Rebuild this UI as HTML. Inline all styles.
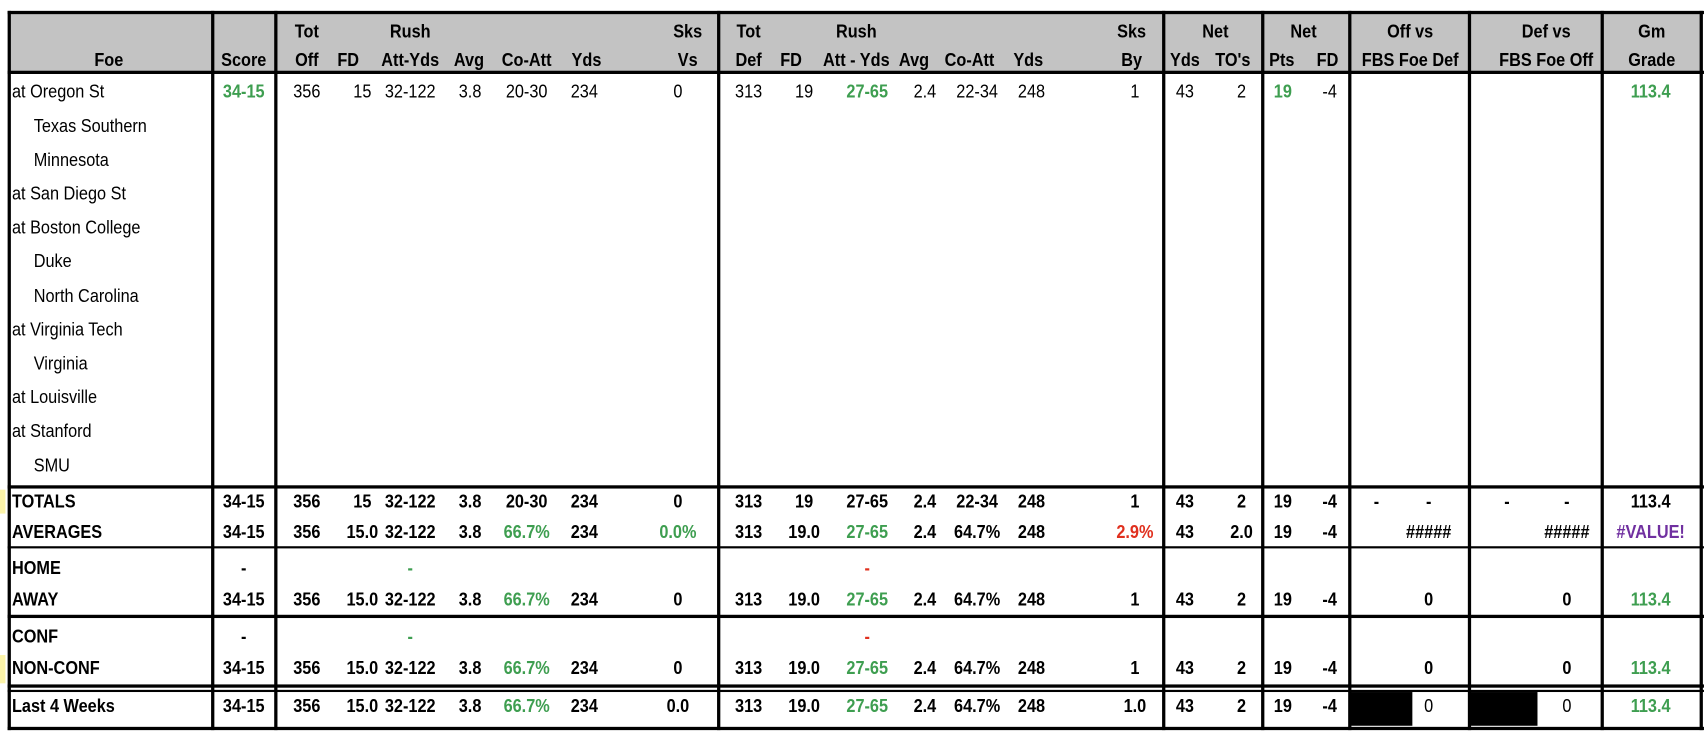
<!DOCTYPE html>
<html><head><meta charset="utf-8">
<style>
html,body{margin:0;padding:0;background:#fff;width:1704px;height:734px;overflow:hidden}
#wrap{position:absolute;left:0;top:0;width:1566px;height:675px;transform:scale(1.0881);transform-origin:0 0;font-family:"Liberation Sans",sans-serif;color:#000}
.t{position:absolute;font-size:17px;white-space:nowrap;transform:translate(-50%,-50%) scaleX(0.88);line-height:1}
.l{transform:translate(0,-50%) scaleX(0.88);transform-origin:0 50%}
.b{font-weight:bold}
.g{color:#3e9e50;font-weight:bold}
.r{color:#e0301e;font-weight:bold}
.p{color:#7030a0;font-weight:bold}
.h{position:absolute;background:#000}
</style></head><body>
<div id="wrap">
<div style="position:absolute;left:8px;top:10px;width:1557px;height:56px;background:#c3c3c3"></div>
<div style="position:absolute;left:0;top:450px;width:5px;height:22px;background:#fbf3a8"></div>
<div style="position:absolute;left:0;top:602px;width:5px;height:26px;background:#fbf3a8"></div>
<div style="position:absolute;left:1240px;top:636px;width:58px;height:31px;background:#000"></div>
<div style="position:absolute;left:1350px;top:636px;width:63px;height:31px;background:#000"></div>
</div>
<script>
const wrap=document.getElementById('wrap');
const vLines=[8,195,253,660,1069,1160,1240,1350,1472,1563];
const hLines=[[10,3],[65,3],[446,3],[502,2],[565,3],[629,3],[634,2],[668,3]];
const hdr1=[["Tot",282],["Rush",377],["Sks",632],["Tot",688],["Rush",787],["Sks",1040],["Net",1117],["Net",1198],["Off vs",1296],["Def vs",1421],["Gm",1518]];
const hdr2=[["Foe",100],["Score",224],["Off",282],["FD",320],["Att-Yds",377],["Avg",431],["Co-Att",484],["Yds",539],["Vs",632],["Def",688],["FD",727],["Att - Yds",787],["Avg",840],["Co-Att",891],["Yds",945],["By",1040],["Yds",1089],["TO's",1133],["Pts",1178],["FD",1220],["FBS Foe Def",1296],["FBS Foe Off",1421],["Grade",1518]];
const colX=[224,282,333,377,432,484,537,623,688,739,797,850,898,948,1043,1089,1141,1179,1222,1265,1313,1385,1440,1517];
const foes=["at Oregon St","  Texas Southern","  Minnesota","at San Diego St","at Boston College","  Duke","  North Carolina","at Virginia Tech","  Virginia","at Louisville","at Stanford","  SMU"];
const gameY=[84,116,147,178,209,240,272,303,334,365,396,428];
const game1=["g:34-15","356","15","32-122","3.8","20-30","234","0","313","19","g:27-65","2.4","22-34","248","1","43","2","g:19","-4","","","","","g:113.4"];
const sumLabels=["TOTALS","AVERAGES","HOME","AWAY","CONF","NON-CONF","Last 4 Weeks"];
const sumY=[461,489,522,551,585,614,649];
const totals=["34-15","356","15","32-122","3.8","20-30","234","0","313","19","27-65","2.4","22-34","248","1","43","2","19","-4","-","-","-","-","113.4"];
const averages=["34-15","356","15.0","32-122","3.8","g:66.7%","234","g:0.0%","313","19.0","g:27-65","2.4","64.7%","248","r:2.9%","43","2.0","19","-4","","#####","","#####","p:#VALUE!"];
const home=["-","","","g:-","","","","","","","r:-","","","","","","","","","","","","",""];
const away=["34-15","356","15.0","32-122","3.8","g:66.7%","234","0","313","19.0","g:27-65","2.4","64.7%","248","1","43","2","19","-4","","0","","0","g:113.4"];
const conf=home;
const nonconf=away;
const last4=["34-15","356","15.0","32-122","3.8","g:66.7%","234","0.0","313","19.0","g:27-65","2.4","64.7%","248","1.0","43","2","19","-4","","n:0","","n:0","g:113.4"];
const sumRows=[totals,averages,home,away,conf,nonconf,last4];

function txt(s,x,y,cls,name){
  const e=document.createElement('div');
  let c='t '+(cls||'');
  if(s.startsWith('g:')){c+=' g';s=s.slice(2);}
  else if(s.startsWith('r:')){c+=' r';s=s.slice(2);}
  else if(s.startsWith('p:')){c+=' p';s=s.slice(2);}
  else if(s.startsWith('n:')){c=c.replace(' b','');s=s.slice(2);}
  e.className=c;e.textContent=s;e.style.left=x+'px';e.style.top=y+'px';
  
  
  wrap.appendChild(e);
}
vLines.forEach((x,i)=>{
  const e=document.createElement('div');e.className='h';
  e.style.left=(x-1)+'px';e.style.top='10px';e.style.width='3px';e.style.height='661px';
  
  
  wrap.appendChild(e);
});
hLines.forEach(([y,w])=>{
  const e=document.createElement('div');e.className='h';
  e.style.left='7px';e.style.top=y+'px';e.style.width='1559px';e.style.height=w+'px';
  
  
  wrap.appendChild(e);
});
hdr1.forEach(([s,x])=>txt(s,x,29,'b','header-top-label'));
hdr2.forEach(([s,x])=>txt(s,x,55,'b','header-label'));
foes.forEach((f,i)=>{
  const x=f.startsWith('  ')?31:11;
  txt(f.trim(),x,gameY[i],'l','foe-name');
});
game1.forEach((v,j)=>{if(v)txt(v,colX[j],gameY[0],'','game-value');});
sumLabels.forEach((s,i)=>txt(s,11,sumY[i],'l b','summary-label'));
sumRows.forEach((row,i)=>row.forEach((v,j)=>{if(v)txt(v,colX[j],sumY[i],'b','summary-value');}));
</script>
</body></html>
